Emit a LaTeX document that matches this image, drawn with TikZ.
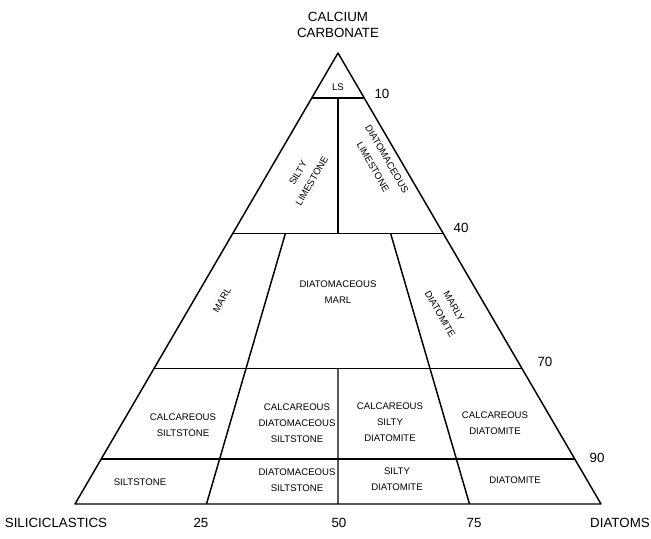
\documentclass[tikz,border=0pt]{standalone}
\usepackage{fontspec}
\setmainfont{Liberation Sans}
\usepackage{tikz}
\usetikzlibrary{calc}

\tikzset{
  cell/.style={font=\fontsize{7.2}{12}\selectfont, align=center, inner sep=0.75pt},
  axislabel/.style={font=\fontsize{10}{12}\selectfont, align=center, inner sep=0.75pt},
  field/.style={line width=1.1pt, line join=round}
}

\begin{document}
\begin{tikzpicture}[x=0.75pt,y=0.75pt,yscale=-1,xscale=1]
\useasboundingbox (0,0) rectangle (651,539);

% corners of the triangle
\coordinate (apex) at (338,53);
\coordinate (sil) at (75,504);
\coordinate (dia) at (601,504);
\coordinate (b25) at ($(sil)!0.25!(dia)$);
\coordinate (b50) at ($(sil)!0.5!(dia)$);
\coordinate (b75) at ($(sil)!0.75!(dia)$);

%Shape: Triangle
\draw [field] (apex) -- (sil) -- (dia) -- cycle ;
%Straight Lines: carbonate levels
\foreach \t in {0.1,0.4,0.7,0.9}
  \draw [field] ($(apex)!\t!(sil)$) -- ($(apex)!\t!(dia)$) ;
%Straight Lines: 25 and 75
\draw [field] ($(apex)!0.4!(b25)$) -- (b25) ;
\draw [field] ($(apex)!0.4!(b75)$) -- (b75) ;
%Straight Lines: 50
\draw [field] ($(apex)!0.1!(b50)$) -- ($(apex)!0.4!(b50)$) ;
\draw [field] ($(apex)!0.7!(b50)$) -- (b50) ;

% Text Node
\node (title) at (338,25) [axislabel] {CALCIUM\\CARBONATE};
% Text Node
\node (silicic) at (56,523) [axislabel] {SILICICLASTICS};
% Text Node
\node (diatoms) at (620,523) [axislabel] {DIATOMS};
% Text Node
\node (n25) at (201,523) [axislabel] {25};
% Text Node
\node (n50) at (339,523) [axislabel] {50};
% Text Node
\node (n75) at (474,523) [axislabel] {75};
% Text Node
\node (n10) at (382,94) [axislabel] {10};
% Text Node
\node (n40) at (461,228) [axislabel] {40};
% Text Node
\node (n70) at (545,362) [axislabel] {70};
% Text Node
\node (n90) at (597,458) [axislabel] {90};

% Text Node
\node (ls) at (338,87) [cell] {LS};
% Text Node
\node (siltyls) at (305,177) [cell, rotate=60] {SILTY\\LIMESTONE};
% Text Node
\node (diatls) at (380,163) [cell, rotate=-60] {DIATOMACEOUS\\LIMESTONE};
% Text Node
\node (marl) at (222,300) [cell, rotate=60] {MARL};
% Text Node
\node (diatmarl) at (338,292) [cell] {DIATOMACEOUS\\MARL};
% Text Node
\node (marlydiat) at (447,310) [cell, rotate=-60] {MARLY\\DIATOMITE};

% Text Node
\node (calcsilt) at (183,425) [cell] {CALCAREOUS\\SILTSTONE};
% Text Node
\node (calcdiatsilt) at (297,423) [cell] {CALCAREOUS\\DIATOMACEOUS\\SILTSTONE};
% Text Node
\node (calcsiltydiat) at (390,422) [cell] {CALCAREOUS\\SILTY\\DIATOMITE};
% Text Node
\node (calcdiat) at (495,423) [cell] {CALCAREOUS\\DIATOMITE};

% Text Node
\node (silt) at (140,482) [cell] {SILTSTONE};
% Text Node
\node (diatsilt) at (297,480) [cell] {DIATOMACEOUS\\SILTSTONE};
% Text Node
\node (siltydiat) at (397,479) [cell] {SILTY\\DIATOMITE};
% Text Node
\node (diatomite) at (515,480) [cell] {DIATOMITE};

\end{tikzpicture}
\end{document}
